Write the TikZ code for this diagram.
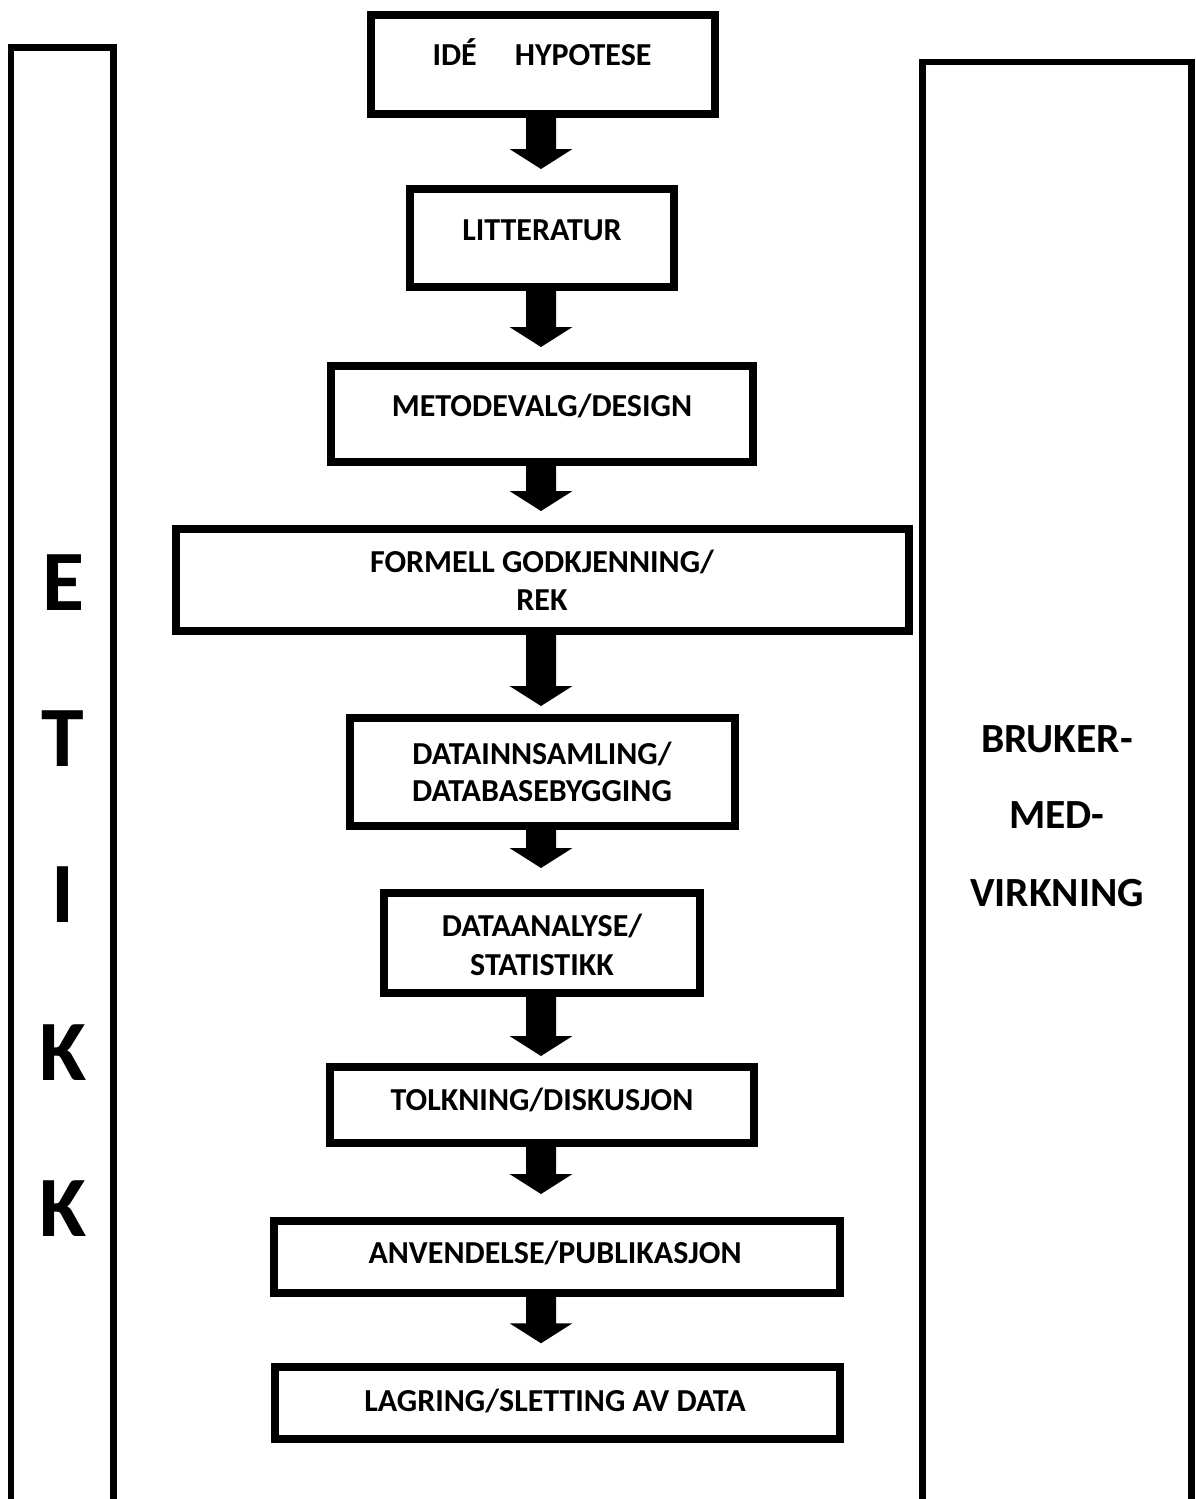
\documentclass[tikz,border=0pt]{standalone}
\usepackage{fontspec}
\setmainfont{Carlito}
\usetikzlibrary{calc}

% Filled block arrow from the bottom of one stage to just above the next
% #1 = upper stage, #2 = lower stage, #3 = gap between tip and lower stage
\newcommand\blockarrow[3]{%
  \fill ($(#1.south -| ax)+(-15,-1)$)
     -- ($(#2.north -| ax)+(-15,-#3-20)$)
     -- ($(#2.north -| ax)+(-31.5,-#3-20)$)
     -- ($(#2.north -| ax)+(0,-#3)$)
     -- ($(#2.north -| ax)+(31.5,-#3-20)$)
     -- ($(#2.north -| ax)+(15,-#3-20)$)
     -- ($(#1.south -| ax)+(15,-1)$) -- cycle;}

\begin{document}
\begin{tikzpicture}[x=1pt,y=-1pt,
  stage/.style={draw, line width=8pt, rectangle, inner sep=0pt},
  stagetext/.style={anchor=base, inner sep=0pt, font=\bfseries\fontsize{32}{38}\selectfont},
  sidetext/.style={anchor=base, inner sep=0pt, font=\bfseries\fontsize{41.5}{47}\selectfont},
  etikk/.style={anchor=base, inner sep=0pt, font=\bfseries\fontsize{86}{90}\selectfont},
  column/.style={line width=6.5pt}]

\useasboundingbox (0,0) rectangle (1196,1499);

% side columns, open at the bottom
\draw[column] (11,1499) -- (11,47.5) -- (113.5,47.5) -- (113.5,1499);
\draw[column] (922.5,1499) -- (922.5,62) -- (1191.5,62) -- (1191.5,1499);

% ETIKK
\node[etikk] (e1) at (63,610) {E};
\node[etikk] (e2) at (63,766) {T};
\node[etikk] (e3) at (63,922) {I};
\node[etikk] (e4) at (63,1080) {K};
\node[etikk] (e5) at (63,1236) {K};

% BRUKERMEDVIRKNING
\node[sidetext] (r1) at (1057,752) {BRUKER-};
\node[sidetext] (r2) at (1057,828) {MED-};
\node[sidetext] (r3) at (1057,906) {VIRKNING};

% stages
\node[stage, minimum width=343.5pt, minimum height=98.5pt] (b1) at (542.75,64.25) {};
\node[stage, minimum width=264pt, minimum height=98pt] (b2) at (542,238) {};
\node[stage, minimum width=422pt, minimum height=96pt] (b3) at (542,414) {};
\node[stage, minimum width=733pt, minimum height=102pt] (b4) at (542.5,580) {};
\node[stage, minimum width=384.5pt, minimum height=108pt] (b5) at (542.25,772) {};
\node[stage, minimum width=316pt, minimum height=100pt] (b6) at (542,943) {};
\node[stage, minimum width=424pt, minimum height=76pt] (b7) at (542,1105) {};
\node[stage, minimum width=566pt, minimum height=72pt] (b8) at (556.5,1257) {};
\node[stage, minimum width=565pt, minimum height=71.5pt] (b9) at (557,1403) {};

% stage labels
\node[stagetext] (t1) at (542,65) {IDÉ\hspace{38pt}HYPOTESE};
\node[stagetext] (t2) at (542,240) {LITTERATUR};
\node[stagetext] (t3) at (542,416) {METODEVALG/DESIGN};
\node[stagetext] (t4a) at (542,572) {FORMELL GODKJENNING/};
\node[stagetext] (t4b) at (542,610) {REK};
\node[stagetext] (t5a) at (542,764) {DATAINNSAMLING/};
\node[stagetext] (t5b) at (542,801.5) {DATABASEBYGGING};
\node[stagetext] (t6a) at (542,936.5) {DATAANALYSE/};
\node[stagetext] (t6b) at (542,975) {STATISTIKK};
\node[stagetext] (t7) at (542,1110) {TOLKNING/DISKUSJON};
\node[stagetext] (t8) at (555,1263) {ANVENDELSE/PUBLIKASJON};
\node[stagetext] (t9) at (555,1411.5) {LAGRING/SLETTING AV DATA};

% arrows between stages
\coordinate (ax) at (541,0);
\blockarrow{b1}{b2}{16}
\blockarrow{b2}{b3}{15}
\blockarrow{b3}{b4}{14}
\blockarrow{b4}{b5}{8}
\blockarrow{b5}{b6}{21}
\blockarrow{b6}{b7}{7}
\blockarrow{b7}{b8}{23}
\blockarrow{b8}{b9}{20}
\end{tikzpicture}
\end{document}
